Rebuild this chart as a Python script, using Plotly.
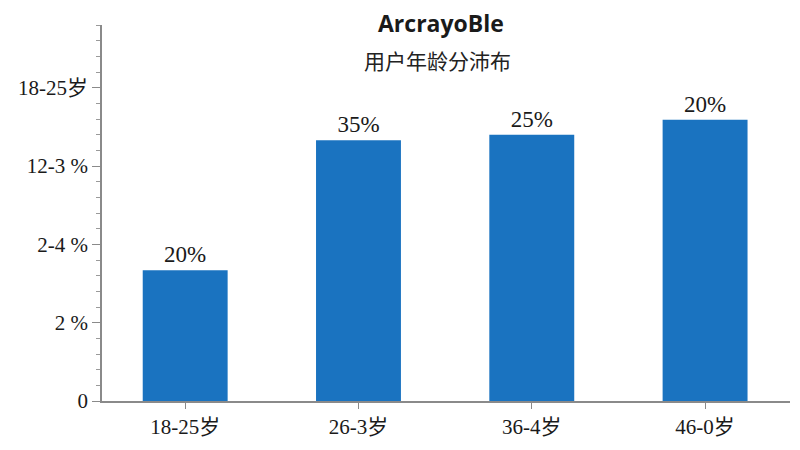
import plotly.graph_objects as go

# age groups (labels as shown in the picture)
ages = ['18-25岁', '26-3岁', '36-4岁', '46-0岁']
heights = [1.67, 3.33, 3.40, 3.59]
labels = ['20%', '35%', '25%', '20%']

ytick_vals = [0, 1, 2, 3, 4]
ytick_text = ['0', '2 %', '2-4 %', '12-3 %', '18-25岁']

serif = 'Liberation Serif, Times New Roman, Noto Sans CJK SC, serif'

fig = go.Figure()
fig.add_trace(go.Bar(
    x=ages, y=heights,
    text=labels, textposition='outside',
    textfont=dict(family=serif, size=23, color='#1a1a1a'),
    marker=dict(color='#1a73c0', line=dict(width=0)),
    width=0.49,
    cliponaxis=False,
))

# page has an 8px body margin, so margins are 8px smaller
fig.update_layout(
    width=792, height=442,
    margin=dict(l=92, r=10, t=17, b=49),
    paper_bgcolor='white', plot_bgcolor='white',
    showlegend=False,
    font=dict(family=serif, size=21, color='#1a1a1a'),
    annotations=[
        dict(text='<b>ArcrayoBle</b>', x=0.493, y=1.004, xref='paper', yref='paper',
             xanchor='center', yanchor='middle', showarrow=False,
             font=dict(family='Open Sans, Noto Sans, sans-serif', size=23, color='#1a1a1a')),
        dict(text='用户年龄分沛布', x=0.487, y=0.907, xref='paper', yref='paper',
             xanchor='center', yanchor='middle', showarrow=False,
             font=dict(family='Noto Sans CJK SC, sans-serif', size=21, color='#222222')),
    ],
)

fig.update_xaxes(
    range=[-0.48, 3.49],
    showline=True, linecolor='#8a8a8a', linewidth=1.5,
    ticks='outside', ticklen=6, tickcolor='#8a8a8a',
    showgrid=False, zeroline=False,
    tickfont=dict(family=serif, size=21, color='#1a1a1a'),
)
fig.update_yaxes(
    range=[0, 4.8],
    tickvals=ytick_vals, ticktext=ytick_text,
    showline=True, linecolor='#8a8a8a', linewidth=1.5,
    ticks='outside', ticklen=8, tickcolor='#8a8a8a',
    minor=dict(dtick=0.2, ticks='outside', ticklen=4, tickcolor='#9a9a9a', showgrid=False),
    showgrid=False, zeroline=False,
    tickfont=dict(family=serif, size=21, color='#1a1a1a'),
)

fig.write_html('out.html')
